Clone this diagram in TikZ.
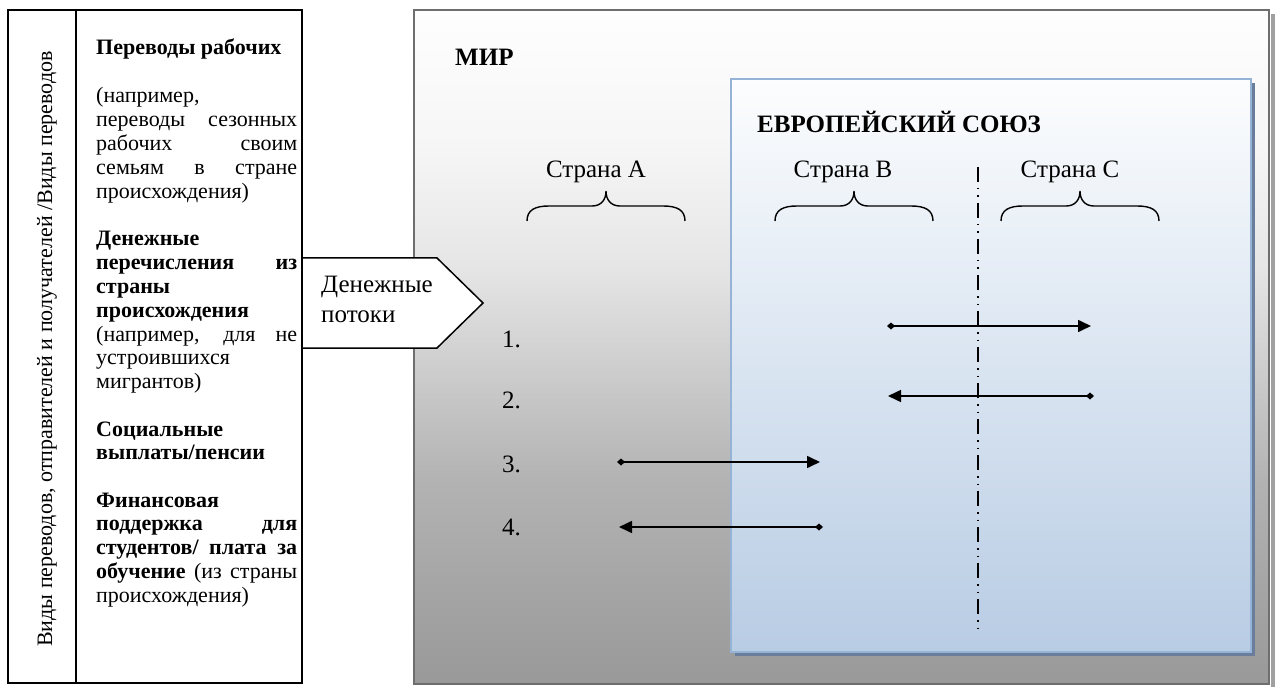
\documentclass[tikz,border=0pt]{standalone}
\usepackage{fontspec}
\setmainfont{Liberation Serif}
\usetikzlibrary{arrows.meta}
\definecolor{euborder}{HTML}{95B3D7}
\definecolor{eubottom}{HTML}{B8CCE4}
\definecolor{eutop}{HTML}{FCFDFE}
\definecolor{eushadow}{HTML}{6A7E9C}
\definecolor{worldborder}{HTML}{6E6E6E}
\definecolor{wshadow}{HTML}{A0A0A0}
\definecolor{wb}{gray}{0.60}
\definecolor{wc}{gray}{0.70}
\definecolor{wm}{gray}{0.90}
\definecolor{wl}{gray}{0.965}
\definecolor{wt}{gray}{0.995}
\pgfdeclareverticalshading{worldshade}{100bp}{color(0bp)=(wb); color(25bp)=(wb); color(40bp)=(wc); color(56bp)=(wm); color(65bp)=(wl); color(75bp)=(wt); color(100bp)=(wt)}
\tikzset{
  lbl/.style={font=\fontsize{25}{30}\selectfont, inner sep=0pt},
  lblb/.style={font=\fontsize{25}{30}\selectfont\bfseries, inner sep=0pt},
  body/.style={font=\fontsize{22}{23.8}\selectfont, inner sep=0pt, anchor=base west},
  flow/.style={line width=1.6pt, {Diamond[length=8pt,width=7pt]}-{Triangle[length=13pt,width=12pt]}},
  cbrace/.pic={\draw[line width=1.4pt] (-79,15) .. controls (-79,4) and (-71,0) .. (-57,0) -- (-14,0) .. controls (-5,0) and (0,-6) .. (0,-15) .. controls (0,-6) and (5,0) .. (14,0) -- (57,0) .. controls (71,0) and (79,4) .. (79,15);},
  border/.style={line width=1.5pt, draw=black}
}
\begin{document}
\begin{tikzpicture}[x=1pt,y=-1pt]
\useasboundingbox (0,0) rectangle (1275,687);
\fill[white] (0,0) rectangle (1275,687);
% world box
\fill[wshadow] (1271,14) rectangle (1275,687);
\shade[shading=worldshade] (414,10) rectangle (1269,684);
\draw[worldborder, line width=2pt] (414,10) rectangle (1269,684);
\node[lblb, anchor=base west] (world) at (455,66) {МИР};
% EU box
\fill[eushadow] (735,83) rectangle (1255,656);
\shade[top color=eutop, bottom color=eubottom, draw=euborder, line width=1.6pt] (731,79) rectangle (1251,652);
\node[lblb, anchor=base west] (eu) at (757,133) {ЕВРОПЕЙСКИЙ СОЮЗ};
% countries
\node[lbl, anchor=base] (ca) at (596,178) {Страна А};
\node[lbl, anchor=base] (cb) at (843,178) {Страна B};
\node[lbl, anchor=base] (cc) at (1070,178) {Страна C};
\pic at (606,206) {cbrace};
\pic at (854,206) {cbrace};
\pic at (1080,206) {cbrace};
% border line
\coordinate (bt) at (978,167);
\coordinate (bb) at (978,628);
\draw[line width=1.4pt, dash pattern=on 15pt off 6pt on 1.5pt off 6pt on 1.5pt off 6pt] (bt) -- (bb);
% numbers
\node[lbl, anchor=base west] (n1) at (502,347) {1.};
\node[lbl, anchor=base west] (n2) at (502,408) {2.};
\node[lbl, anchor=base west] (n3) at (502,472) {3.};
\node[lbl, anchor=base west] (n4) at (502,535) {4.};
% arrows
\coordinate (a1s) at (887,326); \coordinate (a1e) at (1091,326);
\coordinate (a2s) at (1094,396); \coordinate (a2e) at (888,396);
\coordinate (a3s) at (617,462); \coordinate (a3e) at (820,462);
\coordinate (a4s) at (823,527); \coordinate (a4e) at (619,527);
\draw[flow] (a1s) -- (a1e);
\draw[flow] (a2s) -- (a2e);
\draw[flow] (a3s) -- (a3e);
\draw[flow] (a4s) -- (a4e);
% left panel
\draw[border] (8,10) rectangle (302,683);
\draw[border] (76,10) -- (76,683);
\node[rotate=90, anchor=base, font=\fontsize{22}{26}\selectfont, inner sep=0pt] (side) at (52,349) {Виды переводов, отправителей и получателей /Виды переводов};
\node[body] (p1h) at (96,55) {\bfseries Переводы рабочих};
\node[body] (p1) at (96,103) {\parbox[t]{201pt}{(например,\\
\makebox[\linewidth][s]{переводы сезонных}\\
\makebox[\linewidth][s]{рабочих своим}\\
\makebox[\linewidth][s]{семьям в стране}\\
происхождения)}};
\node[body] (p2) at (96,246) {\parbox[t]{201pt}{\textbf{Денежные}\\
\makebox[\linewidth][s]{\bfseries перечисления из}\\
\textbf{страны}\\
\textbf{происхождения}\\
\makebox[\linewidth][s]{(например, для не}\\
устроившихся\\
мигрантов)}};
\node[body] (p3) at (96,436) {\parbox[t]{201pt}{\textbf{Социальные}\\
\textbf{выплаты/пенсии}}};
\node[body] (p4) at (96,507) {\parbox[t]{201pt}{\textbf{Финансовая}\\
\makebox[\linewidth][s]{\bfseries поддержка для}\\
\makebox[\linewidth][s]{\bfseries студентов/ плата за}\\
\makebox[\linewidth][s]{\textbf{обучение} (из страны}\\
происхождения)}};
% money flows pentagon
\coordinate (f1) at (302,258);
\coordinate (f2) at (437,258);
\coordinate (f3) at (483,303);
\coordinate (f4) at (437,348);
\coordinate (f5) at (302,348);
\draw[fill=white, line width=1.5pt, line join=miter] (f1) -- (f2) -- (f3) -- (f4) -- (f5) -- cycle;
\node[lbl, anchor=base west] (fl1) at (321,292) {Денежные};
\node[lbl, anchor=base west] (fl2) at (321,322) {потоки};
\end{tikzpicture}
\end{document}
